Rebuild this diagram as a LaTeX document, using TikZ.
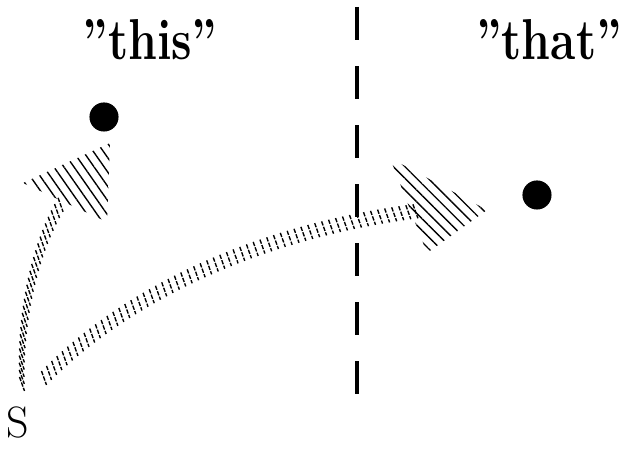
\documentclass[tikz,border=0pt]{standalone}
\usetikzlibrary{patterns.meta, decorations.markings}

\tikzset{
    word/.style={font=\fontsize{21}{25}\selectfont\bfseries, inner sep=0pt, anchor=base},
    spot/.style={circle, fill=black, minimum size=10.6pt, inner sep=0pt},
    divider/.style={line width=1.2pt, dash pattern=on 12pt off 9.5pt},
    strokes/.style={decoration={markings,
        mark=between positions 0 and 1 step 2.6pt with
        {\pgftransformresetnontranslations
         \draw[line width=0.5pt, dash pattern=on 1.6pt off 0.5pt] (-2.5,-7) -- (2.5,7);}},
        decorate},
    hatchhead/.style={pattern={Lines[angle=#1, distance=3pt, line width=0.5pt]}},
    hatchhead/.default=-50
}

\begin{document}
\begin{tikzpicture}[x=0.0128cm, y=-0.0128cm]
            \useasboundingbox (0,0) rectangle (623,449);

            % Labels and spots
            \node[word] (this) at (150,60) {\scalebox{0.8}[1]{''this''}};
            \node[word] (that) at (549,60) {\scalebox{0.8}[1]{''that''}};
            \node[anchor=base, inner sep=0pt, font=\fontsize{16}{19}\selectfont] (src) at (18,438) {S};
            \node[spot] (thisdot) at (104,117) {};
            \node[spot] (thatdot) at (537,195) {};

            % Dividing line
            \coordinate (divtop) at (357,7);
            \coordinate (divbot) at (357,395);
            \draw[divider] (divtop) -- (divbot);

            % Hatched arrow up to "this"
            \coordinate (up0) at (22,384);
            \coordinate (up1) at (63,201);
            \coordinate (uptip) at (110,143);
            \path[strokes] (up0) .. controls (19,310) and (38,240) .. (up1);
            \path[hatchhead=-55] (23,183) -- (uptip) -- (107,222) -- cycle;

            % Hatched arrow across to "that"
            \coordinate (across0) at (44,378);
            \coordinate (across1) at (418,211);
            \coordinate (acrosstip) at (487,210);
            \path[strokes] (across0) .. controls (120,300) and (250,232) .. (across1);
            \path[hatchhead=-45] (390,158) -- (acrosstip) -- (427,253) -- cycle;

        \end{tikzpicture}
\end{document}
